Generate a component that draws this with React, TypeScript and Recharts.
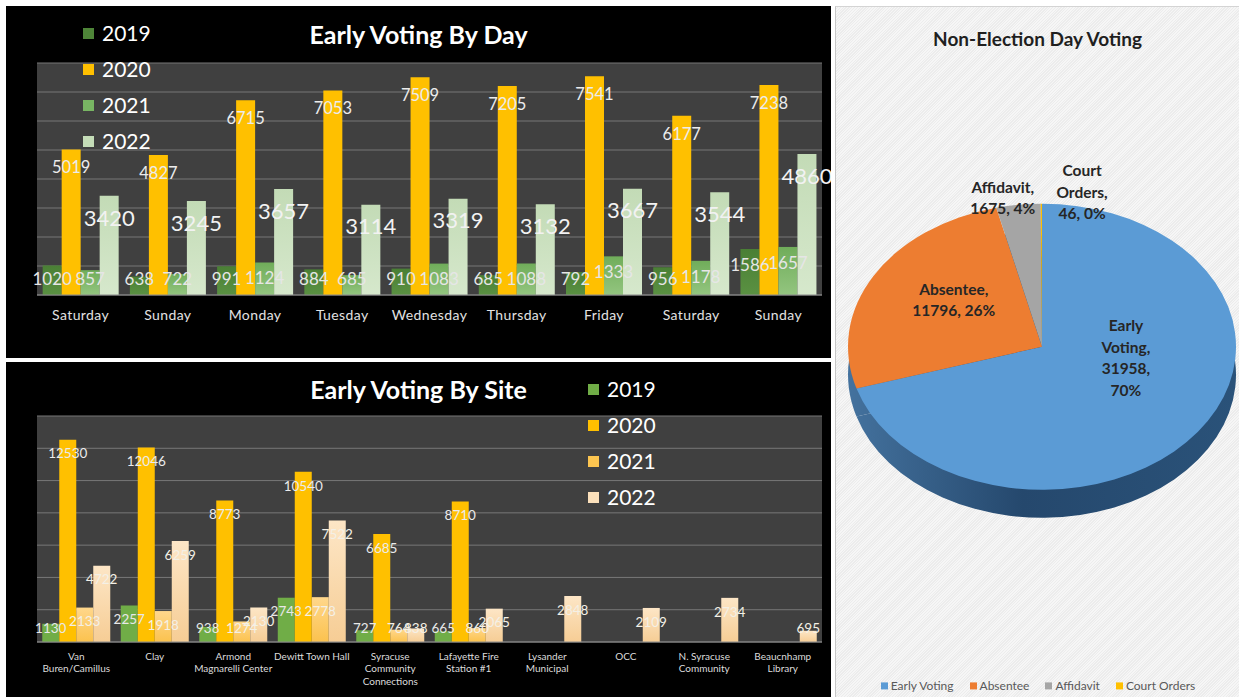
import React from "react";
import { BarChart, Bar, XAxis, YAxis, CartesianGrid, Legend, LabelList, PieChart, Pie, Cell } from "recharts";

const years = ["2019", "2020", "2021", "2022"];

const days = ["Saturday", "Sunday", "Monday", "Tuesday", "Wednesday", "Thursday", "Friday", "Saturday", "Sunday"];
const day2019 = [1020, 638, 991, 884, 910, 685, 792, 956, 1586];
const day2020 = [5019, 4827, 6715, 7053, 7509, 7205, 7541, 6177, 7238];
const day2021 = [857, 722, 1124, 685, 1083, 1088, 1333, 1178, 1657];
const day2022 = [3420, 3245, 3657, 3114, 3319, 3132, 3667, 3544, 4860];
const dayTicks = [0, 1000, 2000, 3000, 4000, 5000, 6000, 7000, 8000];

const sites = [
  "Van\nBuren/Camillus",
  "Clay",
  "Armond\nMagnarelli Center",
  "Dewitt Town Hall",
  "Syracuse\nCommunity\nConnections",
  "Lafayette Fire\nStation #1",
  "Lysander\nMunicipal",
  "OCC",
  "N. Syracuse\nCommunity",
  "Beaucnhamp\nLibrary",
];
const site2019 = [1130, 2257, 938, 2743, 727, 665, null, null, null, null];
const site2020 = [12530, 12046, 8773, 10540, 6685, 8710, null, null, null, null];
const site2021 = [2133, 1918, 1274, 2778, 764, 860, null, null, null, null];
const site2022 = [4722, 6259, 2130, 7522, 838, 2065, 2848, 2109, 2734, 695];
const siteTicks = [0, 2000, 4000, 6000, 8000, 10000, 12000, 14000];

const voteTypes = ["Early Voting", "Absentee", "Affidavit", "Court Orders"];
const voteCounts = [31958, 11796, 1675, 46];

const dayData = days.map((day, i) => ({ day, y2019: day2019[i], y2020: day2020[i], y2021: day2021[i], y2022: day2022[i] }));
const siteData = sites.map((site, i) => ({ site, y2019: site2019[i], y2020: site2020[i], y2021: site2021[i], y2022: site2022[i] }));
const pieData = voteTypes.map((name, i) => ({ name, value: voteCounts[i] }));

const FONT = "Lato, 'Open Sans', sans-serif";
const dayMarkers = ["#4e8538", "#ffc000", "#78b563", "#c5ddb8"];
const siteMarkers = ["#70ad47", "#ffc000", "#fcc550", "#fbe0bb"];
const pieColors = ["#5b9bd5", "#ed7d31", "#a5a5a5", "#ffc000"];
const SQ = 0.737;

const barLabel = (size: number, gap: number, floor: number, color: string) => (p: any) => {
  const { x, y, width, height, value } = p;
  if (value == null || height == null) return null;
  const base = Number(y) + Number(height);
  const ly = Math.min(Number(y) + gap, base - floor);
  return (
    <text x={Number(x) + Number(width) / 2} y={ly} dy="0.35em" textAnchor="middle" fontSize={size} fill={color} fontFamily={FONT}>
      {value}
    </text>
  );
};

const yearLegend = (markers: string[]) => (props: any) => {
  const items = (props.payload || []).map((p: any) => p.value);
  return (
    <div style={{ fontFamily: FONT }}>
      {items.map((name: string, i: number) => (
        <div key={name} style={{ display: "flex", alignItems: "center", height: 36 }}>
          <span style={{ width: 11, height: 11, background: markers[i], marginRight: 8, display: "inline-block" }} />
          <span style={{ color: "#ffffff", fontSize: 21, lineHeight: "36px" }}>{name}</span>
        </div>
      ))}
    </div>
  );
};

const DayTick = ({ x, y, payload }: any) => (
  <text x={x} y={y + 20} dy="0.35em" textAnchor="middle" fill="#e2e2e2" fontSize={14} letterSpacing={0.4} fontFamily={FONT}>
    {payload.value}
  </text>
);

const SiteTick = ({ x, y, payload }: any) => {
  const lines = String(payload.value).split("\n");
  return (
    <text x={x} y={y} textAnchor="middle" fill="#dcdcdc" fontSize={10} fontFamily={FONT}>
      {lines.map((l, i) => (
        <tspan key={i} x={x} y={y + 14 + i * 12.7} dy="0.35em">
          {l}
        </tspan>
      ))}
    </text>
  );
};

const pieLabelLayout = [
  { r: 0.44, turn: 26, split: true },
  { r: 0.56, turn: -6, split: false },
  { r: 1.06, turn: 4, split: false },
  { r: 1.1, turn: -11, split: false },
];

const renderPieLabel = (p: any) => {
  const { cx, cy, midAngle, outerRadius, percent, index, value, name } = p;
  const L = pieLabelLayout[index];
  const a = ((midAngle + L.turn) * Math.PI) / 180;
  const x = cx + outerRadius * L.r * Math.cos(a);
  const y = cy - outerRadius * L.r * Math.sin(a);
  const words = String(name).split(" ");
  const pct = Math.round(percent * 100) + "%";
  const lines = [...words.slice(0, -1), words[words.length - 1] + ","];
  if (L.split) lines.push(value + ",", pct);
  else lines.push(`${value}, ${pct}`);
  return (
    <text transform={`translate(${x},${y}) scale(1,${1 / SQ})`} textAnchor="middle" fontSize={15.5} fontWeight={700} fill="#262626" fontFamily={FONT}>
      {lines.map((l, i) => (
        <tspan key={i} x={0} y={(i - (lines.length - 1) / 2) * 21.5} dy="0.35em">
          {l}
        </tspan>
      ))}
    </text>
  );
};

const pieLegend = (props: any) => {
  const seen = new Set<string>();
  const items = (props.payload || [])
    .filter((p: any) => {
      if (p.type === "none" || seen.has(p.value) || voteTypes.indexOf(p.value) < 0) return false;
      seen.add(p.value);
      return true;
    })
    .sort((a: any, b: any) => voteTypes.indexOf(a.value) - voteTypes.indexOf(b.value));
  return (
    <div style={{ display: "flex", justifyContent: "center", fontFamily: FONT, fontSize: 12, color: "#595959", height: 14, alignItems: "center" }}>
      {items.map((p: any) => (
        <span key={p.value} style={{ display: "flex", alignItems: "center", margin: "0 8px" }}>
          <span style={{ width: 7, height: 7, background: pieColors[voteTypes.indexOf(p.value)], marginRight: 3, display: "inline-block" }} />
          {p.value}
        </span>
      ))}
    </div>
  );
};

const titleStyle: React.CSSProperties = {
  position: "absolute",
  left: 0,
  width: 825,
  textAlign: "center",
  color: "#ffffff",
  fontFamily: FONT,
  fontWeight: 700,
  fontSize: 25,
  lineHeight: "30px",
};

export default function App() {
  return (
    <div style={{ position: "absolute", left: 0, top: 0, width: 1239, height: 697, background: "#ffffff", overflow: "hidden" }}>
      {/* early voting by day */}
      <div style={{ position: "absolute", left: 6, top: 6, width: 825, height: 352, background: "#000000" }}>
        <BarChart width={825} height={352} data={dayData} margin={{ top: 57, right: 9, left: 31, bottom: 33 }} barCategoryGap="6.5%" barGap={0}>
          <defs>
            <linearGradient id="d19" x1="0" y1="0" x2="0" y2="1">
              <stop offset="0" stopColor="#4a7f35" />
              <stop offset="1" stopColor="#5a9142" />
            </linearGradient>
            <linearGradient id="d21" x1="0" y1="0" x2="0" y2="1">
              <stop offset="0" stopColor="#70ad5a" />
              <stop offset="1" stopColor="#93c57f" />
            </linearGradient>
            <linearGradient id="d22" x1="0" y1="0" x2="0" y2="1">
              <stop offset="0" stopColor="#c3dbb6" />
              <stop offset="1" stopColor="#d6e8cc" />
            </linearGradient>
          </defs>
          <CartesianGrid vertical={false} fill="#404040" fillOpacity={1} stroke="#777777" horizontalValues={dayTicks} />
          <XAxis dataKey="day" tick={<DayTick />} tickLine={false} tickSize={0} tickMargin={0} height={30} axisLine={{ stroke: "#8a8a8a" }} interval={0} />
          <YAxis hide domain={[0, 8000]} ticks={dayTicks} />
          <Legend layout="vertical" align="center" verticalAlign="middle" content={yearLegend(dayMarkers)} wrapperStyle={{ left: 77, top: 9, width: "auto", height: "auto" }} />
          <Bar dataKey="y2019" name="2019" fill="url(#d19)" isAnimationActive={false}>
            <LabelList dataKey="y2019" content={barLabel(17, 16, 16, "#e6e6e6")} />
          </Bar>
          <Bar dataKey="y2020" name="2020" fill="#ffc000" isAnimationActive={false}>
            <LabelList dataKey="y2020" content={barLabel(16.5, 18, 16, "#ececec")} />
          </Bar>
          <Bar dataKey="y2021" name="2021" fill="url(#d21)" isAnimationActive={false}>
            <LabelList dataKey="y2021" content={barLabel(17, 16, 16, "#e6e6e6")} />
          </Bar>
          <Bar dataKey="y2022" name="2022" fill="url(#d22)" isAnimationActive={false}>
            <LabelList dataKey="y2022" content={barLabel(22, 22, 16, "#f2f2f2")} />
          </Bar>
        </BarChart>
        <div style={{ ...titleStyle, top: 13 }}>Early Voting By Day</div>
      </div>

      {/* early voting by site */}
      <div style={{ position: "absolute", left: 6, top: 362, width: 825, height: 335, background: "#000000" }}>
        <BarChart width={825} height={335} data={siteData} margin={{ top: 54, right: 9, left: 31, bottom: 10 }} barCategoryGap="6.7%" barGap={0}>
          <defs>
            <linearGradient id="s21" x1="0" y1="0" x2="0" y2="1">
              <stop offset="0" stopColor="#ffd78c" />
              <stop offset="1" stopColor="#fbc24e" />
            </linearGradient>
            <linearGradient id="s22" x1="0" y1="0" x2="0" y2="1">
              <stop offset="0" stopColor="#fde6c6" />
              <stop offset="1" stopColor="#f6cd95" />
            </linearGradient>
          </defs>
          <CartesianGrid vertical={false} fill="#404040" fillOpacity={1} stroke="#777777" horizontalValues={siteTicks} />
          <XAxis dataKey="site" tick={<SiteTick />} tickLine={false} tickSize={0} tickMargin={0} height={45} axisLine={{ stroke: "#8a8a8a" }} interval={0} />
          <YAxis hide domain={[0, 14000]} ticks={siteTicks} />
          <Legend layout="vertical" align="center" verticalAlign="middle" content={yearLegend(siteMarkers)} wrapperStyle={{ left: 582, top: 9, width: "auto", height: "auto" }} />
          <Bar dataKey="y2019" name="2019" fill="#70ad47" isAnimationActive={false}>
            <LabelList dataKey="y2019" content={barLabel(13.5, 14, 14, "#e8e8e8")} />
          </Bar>
          <Bar dataKey="y2020" name="2020" fill="#ffc000" isAnimationActive={false}>
            <LabelList dataKey="y2020" content={barLabel(13.5, 14, 14, "#ececec")} />
          </Bar>
          <Bar dataKey="y2021" name="2021" fill="url(#s21)" isAnimationActive={false}>
            <LabelList dataKey="y2021" content={barLabel(13.5, 14, 14, "#f4f0e6")} />
          </Bar>
          <Bar dataKey="y2022" name="2022" fill="url(#s22)" isAnimationActive={false}>
            <LabelList dataKey="y2022" content={barLabel(13.5, 14, 14, "#f4f0e6")} />
          </Bar>
        </BarChart>
        <div style={{ ...titleStyle, top: 12 }}>Early Voting By Site</div>
      </div>

      {/* non-election day voting */}
      <div
        style={{
          position: "absolute",
          left: 835,
          top: 6,
          width: 404,
          height: 691,
          boxSizing: "border-box",
          borderLeft: "1px solid #c6c6c6",
          borderTop: "1px solid #d4d4d4",
          background: "repeating-linear-gradient(135deg, #f6f6f6 0px, #f6f6f6 1px, #ececec 1px, #ececec 2px)",
          overflow: "hidden",
        }}
      >
        <div style={{ position: "absolute", left: 0, top: 20, width: 403, textAlign: "center", fontFamily: FONT, fontWeight: 700, fontSize: 19, color: "#1f1f1f", lineHeight: "24px" }}>
          Non-Election Day Voting
        </div>
        <div style={{ position: "absolute", left: 0, top: 0, width: 404, height: 938, transform: `scaleY(${SQ})`, transformOrigin: "0 0" }}>
          <PieChart width={404} height={938} margin={{ top: 0, right: 0, bottom: 0, left: 0 }}>
            <defs>
              <linearGradient id="side" x1="12" y1="0" x2="400" y2="0" gradientUnits="userSpaceOnUse">
                <stop offset="0" stopColor="#44729e" />
                <stop offset="0.45" stopColor="#25486d" />
                <stop offset="1" stopColor="#2a5279" />
              </linearGradient>
            </defs>
            <Pie data={pieData} dataKey="value" nameKey="name" cx={206} cy={499} outerRadius={194} startAngle={90} endAngle={-270} stroke="none" legendType="none" isAnimationActive={false}>
              {pieData.map((d) => (
                <Cell key={d.name} fill="url(#side)" />
              ))}
            </Pie>
            <Pie
              data={pieData}
              dataKey="value"
              nameKey="name"
              cx={206}
              cy={461}
              outerRadius={194}
              startAngle={90}
              endAngle={-270}
              stroke="none"
              label={renderPieLabel}
              labelLine={false}
              isAnimationActive={false}
            >
              {pieData.map((d, i) => (
                <Cell key={d.name} fill={pieColors[i]} />
              ))}
            </Pie>
            <Legend
              layout="horizontal"
              align="center"
              verticalAlign="bottom"
              content={pieLegend}
              wrapperStyle={{ left: 0, bottom: 8, width: 404, height: 14, transform: `scaleY(${1 / SQ})`, transformOrigin: "50% 100%" }}
            />
          </PieChart>
        </div>
      </div>
    </div>
  );
}
